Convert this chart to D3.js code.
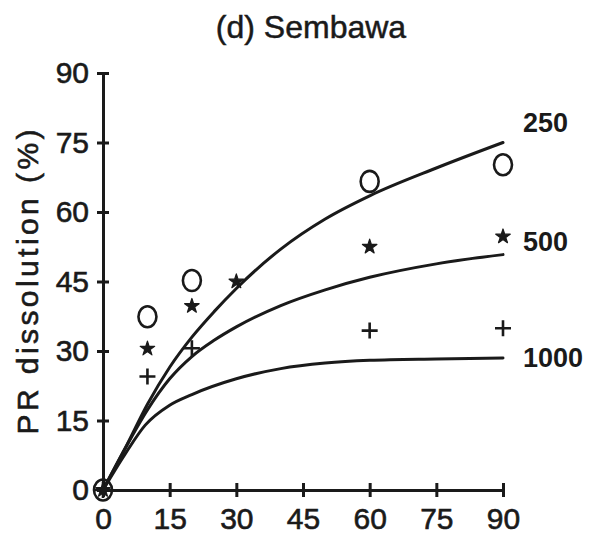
<!DOCTYPE html>
<html>
<head>
<meta charset="utf-8">
<script src="https://cdn.jsdelivr.net/npm/d3@7"></script>
<style>
  html, body { margin: 0; padding: 0; background: #fff; }
  svg { display: block; }
  text { font-family: "Liberation Sans", Arial, Helvetica, sans-serif; fill: #1a1a1a; }
</style>
</head>
<body>
<svg id="chart" width="591" height="537"></svg>
<script>
// Fitted dissolution curves (time in days, PR dissolved in %) for three rates
const curveTimes250  = [0, 5, 10, 15, 20, 25, 30, 40, 50, 60, 75, 90];
const curveValues250 = [0, 9, 18.5, 26.5, 33, 38.5, 43.5, 52, 58.5, 63.5, 69.5, 75];

const curveTimes500  = [0, 5, 10, 15, 20, 25, 30, 40, 50, 60, 75, 90];
const curveValues500 = [0, 9, 17.3, 24, 28.8, 32.3, 35.2, 39.8, 43.2, 45.9, 48.8, 50.8];

const curveTimes1000  = [0, 5, 9.5, 15, 20, 30, 40, 50, 60, 75, 90];
const curveValues1000 = [0, 7.8, 14, 18.3, 20.6, 24, 26.2, 27.4, 28, 28.3, 28.5];

// Measured points
const obsTimes250  = [0, 10, 20, 60, 90];
const obsValues250 = [0, 37.4, 45.2, 66.6, 70.2];

const obsTimes500  = [0, 10, 20, 30, 60, 90];
const obsValues500 = [0, 30.5, 39.7, 45, 52.5, 54.7];

const obsTimes1000  = [0, 10, 20, 60, 90];
const obsValues1000 = [0, 24.5, 30.6, 34.4, 34.9];

const seriesLabels = ["250", "500", "1000"];
const xTicks = [0, 15, 30, 45, 60, 75, 90];
const yTicks = [0, 15, 30, 45, 60, 75, 90];

const titleText = "(d) Sembawa";
const yLabelText = "PR dissolution (%)";

const ink = "#1a1a1a";
const svg = d3.select("#chart");

const x = d3.scaleLinear().domain([0, 90]).range([103, 503]);
const y = d3.scaleLinear().domain([0, 90]).range([490, 73]);

// Title
svg.append("text")
  .attr("x", 311).attr("y", 38)
  .attr("text-anchor", "middle")
  .attr("font-size", 32)
  .attr("stroke", ink).attr("stroke-width", 0.5)
  .text(titleText);

// Y axis title
svg.append("text")
  .attr("transform", "translate(38,282) rotate(-90)")
  .attr("text-anchor", "middle")
  .attr("font-size", 30)
  .attr("textLength", 305)
  .attr("lengthAdjust", "spacing")
  .attr("stroke", ink).attr("stroke-width", 0.6)
  .text(yLabelText);

// Axes with ticks that cross the axis line
const yAxis = svg.append("g")
  .attr("transform", `translate(${x(0)},0)`)
  .call(d3.axisLeft(y).tickValues(yTicks).tickSize(6).tickSizeOuter(0).tickPadding(8)
        .tickFormat(d3.format("d")));
yAxis.selectAll(".tick line").attr("x1", 6).attr("x2", -6);

const xAxis = svg.append("g")
  .attr("transform", `translate(0,${y(0)})`)
  .call(d3.axisBottom(x).tickValues(xTicks).tickSize(7).tickSizeOuter(0).tickPadding(11)
        .tickFormat(d3.format("d")));
xAxis.selectAll(".tick line").attr("y1", -7).attr("y2", 7);

[yAxis, xAxis].forEach(g => {
  g.select(".domain").attr("stroke", ink).attr("stroke-width", 3);
  g.selectAll(".tick line").attr("stroke", ink).attr("stroke-width", 3);
  g.selectAll(".tick text")
    .attr("font-size", 30)
    .attr("font-family", "'Liberation Sans', Arial, sans-serif")
    .attr("fill", ink)
    .attr("stroke", ink)
    .attr("stroke-width", 0.6);
});

// Fitted curves
const line = d3.line()
  .x(d => x(d[0]))
  .y(d => y(d[1]))
  .curve(d3.curveMonotoneX);

const curves = [
  d3.zip(curveTimes250, curveValues250),
  d3.zip(curveTimes500, curveValues500),
  d3.zip(curveTimes1000, curveValues1000)
];

svg.append("g").selectAll("path")
  .data(curves)
  .join("path")
  .attr("d", line)
  .attr("fill", "none")
  .attr("stroke", ink)
  .attr("stroke-width", 3)
  .attr("stroke-linecap", "round");

// Curve end labels
const labelOffsets = [-11, -4, 9];
svg.append("g").selectAll("text")
  .data(curves.map((c, i) => ({ end: c[c.length - 1], label: seriesLabels[i], dy: labelOffsets[i] })))
  .join("text")
  .attr("x", d => x(d.end[0]) + 20)
  .attr("y", d => y(d.end[1]) + d.dy)
  .attr("font-size", 27)
  .attr("font-weight", "bold")
  .text(d => d.label);

// Observed points: open circles (250), stars (500), crosses (1000)
const pts250 = d3.zip(obsTimes250, obsValues250);
const pts500 = d3.zip(obsTimes500, obsValues500);
const pts1000 = d3.zip(obsTimes1000, obsValues1000);

svg.append("g").selectAll("ellipse")
  .data(pts250)
  .join("ellipse")
  .attr("cx", d => x(d[0]))
  .attr("cy", d => y(d[1]))
  .attr("rx", 9)
  .attr("ry", 10.5)
  .attr("fill", "none")
  .attr("stroke", ink)
  .attr("stroke-width", 2.6);

const star = d3.symbol().type(d3.symbolStar).size(65);
svg.append("g").selectAll("path")
  .data(pts500)
  .join("path")
  .attr("transform", d => `translate(${x(d[0])},${y(d[1])})`)
  .attr("d", star)
  .attr("fill", ink)
  .attr("stroke", ink)
  .attr("stroke-width", 1.2)
  .attr("stroke-linejoin", "round");

svg.append("g").selectAll("path")
  .data(pts1000)
  .join("path")
  .attr("transform", d => `translate(${x(d[0])},${y(d[1])})`)
  .attr("d", "M-8,0H8M0,-8V8")
  .attr("fill", "none")
  .attr("stroke", ink)
  .attr("stroke-width", 2.6);
</script>
</body>
</html>
